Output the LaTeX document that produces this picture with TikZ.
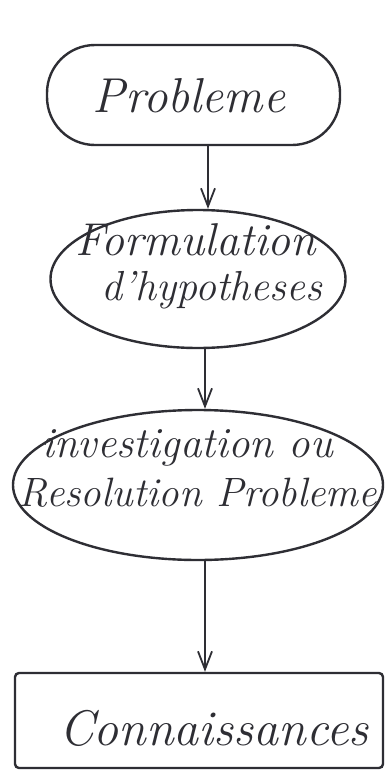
\documentclass[tikz,border=0pt]{standalone}
\usetikzlibrary{shapes.geometric,arrows.meta}
\definecolor{ink}{HTML}{2E2E34}
\begin{document}
\begin{tikzpicture}[x=1pt,y=-1pt,
  shp/.style={draw=ink,line width=2.4pt,inner sep=0pt},
  txt/.style={text=ink,anchor=base,inner sep=0pt,font=\itshape},
  arr/.style={draw=ink,line width=2pt,-{Straight Barb[length=18pt,width=14pt,line width=1.8pt]}}]
\useasboundingbox[fill=white] (0,0) rectangle (387,772);
% shapes
\node[shp,rectangle,rounded corners=48pt,minimum width=293pt,minimum height=100pt] (prob) at (193.5,95) {};
\node[shp,ellipse,minimum width=295pt,minimum height=138pt] (hyp) at (198,279) {};
\node[shp,ellipse,minimum width=370pt,minimum height=150pt] (inv) at (198,485) {};
\node[shp,rectangle,rounded corners=4pt,minimum width=368pt,minimum height=95pt] (con) at (199,720.5) {};
% texts
\node[txt,font=\itshape\fontsize{49}{50}\selectfont] (tprob) at (189,112) {Probleme};
\node[txt,font=\itshape\fontsize{46}{50}\selectfont] (thyp1) at (196,255) {Formulation};
\node[txt,font=\itshape\fontsize{42}{50}\selectfont] (thyp2) at (212,300) {d'hypotheses};
\node[txt,font=\itshape\fontsize{43}{50}\selectfont] (tinv1) at (187,457) {investigation ou};
\node[txt,font=\itshape\fontsize{41}{50}\selectfont] (tinv2) at (198,506) {Resolution Probleme};
\node[txt,font=\itshape\fontsize{50}{50}\selectfont] (tcon) at (214,745) {Connaissances};
% connectors
\coordinate (a1) at (208,0);
\coordinate (a2) at (205,0);
\coordinate (a3) at (205,0);
\draw[arr] (prob.south -| a1) -- (hyp.north -| a1);
\draw[arr] (hyp.south -| a2) -- (inv.north -| a2);
\draw[arr] (inv.south -| a3) -- (con.north -| a3);
\end{tikzpicture}
\end{document}
